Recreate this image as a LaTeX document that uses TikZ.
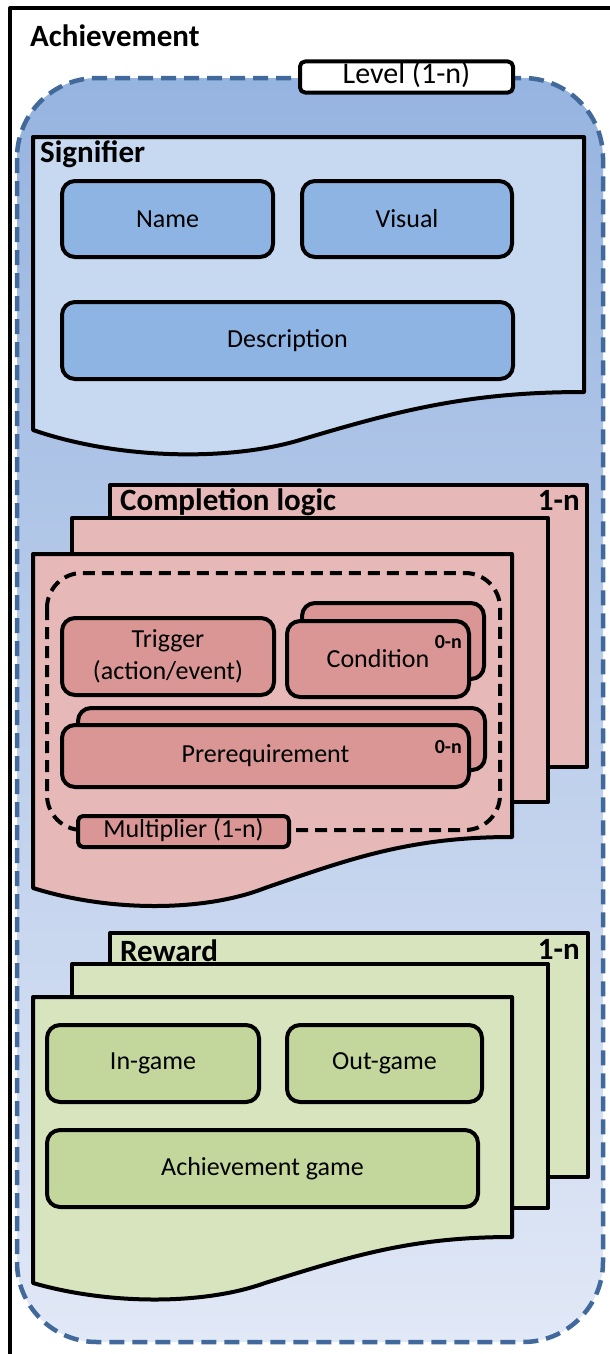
\documentclass[tikz,border=0pt]{standalone}
\usepackage{fontspec}
\setmainfont{Carlito}
\usepackage{tikz}
\usetikzlibrary{positioning}

\definecolor{sigpage}{RGB}{198,217,241}
\definecolor{sigitem}{RGB}{141,180,226}
\definecolor{logpage}{RGB}{230,185,184}
\definecolor{logitem}{RGB}{217,150,148}
\definecolor{rewpage}{RGB}{215,228,189}
\definecolor{rewitem}{RGB}{195,214,155}
\definecolor{lvltop}{RGB}{150,180,224}
\definecolor{lvlbot}{RGB}{225,232,246}
\definecolor{lvlline}{RGB}{65,105,155}

\begin{document}
\begin{tikzpicture}[x=1pt, y=-1pt, line join=round,
  pagebox/.style={draw, line width=4pt},
  itembox/.style={draw, shape=rectangle, rounded corners=13pt, line width=4pt, inner sep=0pt, align=center, font=\fontsize{26}{32}\selectfont},
  headtext/.style={inner sep=0pt, font=\fontsize{31}{36}\selectfont\bfseries},
  cnttext/.style={inner sep=0pt, font=\fontsize{20}{22}\selectfont\bfseries}]
\clip (0,0) rectangle (610,1354);
\fill[white] (0,0) rectangle (610,1354);
\draw[line width=4pt] (10,1380) -- (10,8) -- (640,8);
\node[headtext, anchor=base west] (ach) at (30,47) {Achievement};
% level area
\shade[top color=lvltop, bottom color=lvlbot, rounded corners=80pt] (17,78) rectangle (603,1342);
\draw[lvlline, line width=4.5pt, dash pattern=on 15pt off 8pt, rounded corners=80pt] (17,78) rectangle (603,1342);
\node[draw, shape=rectangle, fill=white, line width=4pt, rounded corners=5pt, minimum width=213pt, minimum height=31pt, inner sep=0pt, text height=21pt, text depth=7pt, font=\fontsize{30}{34}\selectfont] (lvl) at (406.5,77) {Level (1-n)};
% signifier
\draw[pagebox, fill=sigpage] (33,137) -- (584,137) -- (584,392) .. controls (470,392) and (400,410) .. (300,440) .. controls (230,461) and (120,460) .. (33,430) -- cycle;
\node[headtext, anchor=base west] (sig) at (40,162) {Signifier};
\node[itembox, fill=sigitem, minimum width=211pt, minimum height=76pt] (name) at (167.5,219) {Name};
\node[itembox, fill=sigitem, minimum width=210pt, minimum height=76pt, right=25pt of name] (visual) {Visual};
\node[itembox, fill=sigitem, minimum width=451pt, minimum height=77pt] (descr) at (287.5,340.5) {Description};
% completion logic
\draw[pagebox, fill=logpage] (110,485) rectangle (587,767);
\node[headtext, anchor=base west] (logic) at (120,510) {Completion logic};
\node[headtext, anchor=base east] (logicn) at (580,510) {1-n};
\draw[pagebox, fill=logpage] (72,518) rectangle (548,802);
\draw[pagebox, fill=logpage] (33,554) -- (512,554) -- (512,837) .. controls (411,837) and (352,858) .. (265,888) .. controls (204,912) and (109,912) .. (33,888) -- cycle;
\draw[line width=4pt, dash pattern=on 12pt off 7pt, rounded corners=35pt] (47,573) rectangle (500,830);
\node[itembox, fill=logitem, minimum width=212pt, minimum height=77pt] (trig) at (168,656.5) {Trigger\\(action/event)};
\node[itembox, fill=logitem, minimum width=182pt, minimum height=76pt] (condback) at (393,641) {};
\node[itembox, fill=logitem, minimum width=182pt, minimum height=76pt] (cond) at (378,659) {Condition};
\node[cnttext, anchor=base east] (condn) at (462,648) {0-n};
\node[itembox, fill=logitem, minimum width=407pt, minimum height=62pt] (prereqback) at (281.5,739) {};
\node[itembox, fill=logitem, minimum width=407pt, minimum height=62pt] (prereq) at (265.5,756) {Prerequirement};
\node[cnttext, anchor=base east] (prereqn) at (462,753) {0-n};
\node[itembox, fill=logitem, rounded corners=5pt, minimum width=211pt, minimum height=31pt, text height=18pt, text depth=6pt] (mult) at (183.5,831.5) {Multiplier (1-n)};
% reward
\draw[pagebox, fill=rewpage] (110,933) rectangle (588,1177);
\node[headtext, anchor=base west] (rew) at (120,961) {Reward};
\node[headtext, anchor=base east] (rewn) at (580,959) {1-n};
\draw[pagebox, fill=rewpage] (72,964) rectangle (548,1208);
\draw[pagebox, fill=rewpage] (33,997) -- (512,997) -- (512,1237) .. controls (411,1237) and (352,1256) .. (265,1283) .. controls (204,1305) and (109,1305) .. (33,1283) -- cycle;
\node[itembox, fill=rewitem, minimum width=212pt, minimum height=77pt] (ingame) at (153,1063.5) {In-game};
\node[itembox, fill=rewitem, minimum width=195pt, minimum height=77pt] (outgame) at (384.5,1063.5) {Out-game};
\node[itembox, fill=rewitem, minimum width=431pt, minimum height=77pt] (achgame) at (262.5,1168.5) {Achievement game};
\end{tikzpicture}
\end{document}
